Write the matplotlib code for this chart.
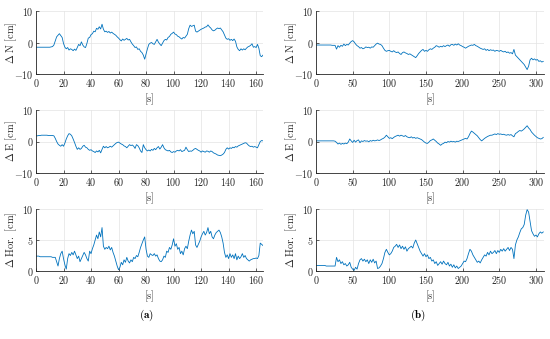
import numpy as np
import matplotlib
matplotlib.use("Agg")
import matplotlib.pyplot as plt

plt.rcParams['font.family'] = 'cmr10'
plt.rcParams['mathtext.fontset'] = 'cm'
plt.rcParams['axes.formatter.use_mathtext'] = True

# ---------------- data: panel (a), 1 s sampling ----------------
a_N = [
    -1.5, -1.5, -1.5, -1.5, -1.5, -1.5, -1.5, -1.5, -1.5, -1.5,
    -1.5, -1.4, -1.3, -0.8, 0.5, 1.8, 2.3, 2.8, 2.2, 1.6,
    -0.3, -1.5, -2.0, -1.6, -2.4, -2.0, -2.2, -2.6, -2.1, -2.5,
    -1.6, -0.6, -1.0, 0.2, -0.8, -1.4, -1.6, -0.3, 1.4, 1.6,
    2.5, 2.8, 3.6, 3.4, 4.5, 4.2, 5.0, 4.3, 5.8, 4.2,
    3.4, 3.6, 3.2, 3.5, 3.0, 3.3, 2.9, 2.6, 2.3, 1.8,
    1.4, 0.9, 0.5, 1.1, 0.7, 1.0, 1.3, 0.8, 1.0, 0.2,
    -0.5, -1.0, -1.6, -1.4, -2.2, -2.0, -2.8, -3.2, -4.0, -5.3,
    -3.6, -2.0, -0.6, -0.2, 0.0, -0.4, -0.6, 0.2, 1.0, 0.1,
    -0.5, -1.0, -0.2, 0.6, 1.0, 0.8, 1.6, 1.9, 2.6, 2.9,
    3.3, 2.7, 2.5, 2.0, 1.8, 1.4, 1.1, 1.6, 1.4, 2.0,
    2.6, 4.4, 5.5, 5.1, 5.3, 5.5, 3.6, 3.3, 3.6, 3.9,
    4.2, 4.4, 4.6, 4.9, 5.0, 5.6, 5.0, 4.6, 4.0, 3.7,
    3.9, 4.3, 4.6, 4.4, 4.6, 4.0, 3.4, 2.4, 1.4, 1.0,
    1.2, 0.7, 1.0, 0.6, 1.1, 0.4, -1.4, -2.2, -2.6, -2.0,
    -2.4, -2.0, -2.3, -1.8, -1.4, -1.2, -0.9, -0.4, -1.5, -1.3,
    -1.6, -0.6, -1.8, -4.2, -4.5, -4.0,
]
a_E = [
    1.8, 1.8, 1.9, 1.9, 2.0, 2.0, 2.0, 2.0, 2.0, 1.9,
    1.9, 1.9, 1.9, 1.8, 1.0, 0.0, -0.8, -1.2, -1.5, -1.0,
    -1.5, -0.5, 0.8, 1.8, 2.5, 2.3, 1.8, 0.8, -0.3, -1.5,
    -2.5, -2.0, -2.5, -2.2, -1.5, -1.2, -1.8, -2.0, -2.5, -2.8,
    -2.6, -3.0, -3.2, -3.5, -3.0, -3.3, -2.8, -3.6, -2.5, -1.5,
    -2.0, -1.6, -2.0, -1.8, -1.5, -1.8, -1.4, -1.0, -0.6, -0.3,
    -0.2, -0.5, -0.8, -1.0, -1.4, -1.6, -2.0, -1.5, -1.0, -1.3,
    -1.1, -1.5, -2.2, -1.0, -1.3, -2.0, -3.0, -3.5, -1.0, -2.0,
    -2.6, -3.0, -2.7, -3.0, -2.5, -2.8, -2.2, -2.6, -2.0, -1.6,
    -2.4, -1.8, -1.0, -2.0, -2.6, -2.8, -3.0, -2.8, -3.3, -3.5,
    -3.2, -3.4, -3.0, -2.8, -3.0, -2.6, -3.2, -3.0, -2.8, -1.8,
    -2.6, -3.2, -3.0, -3.1, -2.8, -2.4, -2.2, -2.5, -2.8, -3.0,
    -3.4, -3.0, -3.2, -3.4, -3.0, -3.1, -3.4, -3.0, -3.2, -3.6,
    -3.8, -4.0, -4.3, -4.4, -4.5, -4.3, -4.0, -3.5, -2.5, -2.0,
    -2.4, -2.0, -2.2, -1.8, -2.0, -1.6, -1.8, -1.4, -1.2, -1.0,
    -0.8, -0.6, -0.4, -0.5, -1.0, -1.4, -1.6, -1.5, -1.8, -1.6,
    -1.8, -2.0, -1.0, 0.0, 0.3, 0.2,
]
a_H = [
    2.4, 2.4, 2.4, 2.3, 2.3, 2.3, 2.3, 2.3, 2.3, 2.3,
    2.3, 2.3, 2.2, 2.2, 2.2, 1.5, 0.8, 2.0, 2.8, 3.2,
    2.0, 1.0, 0.3, 2.0, 2.8, 2.5, 3.0, 2.6, 3.2, 2.6,
    2.0, 2.4, 1.5, 2.0, 2.5, 3.0, 2.6, 2.0, 1.6, 3.2,
    2.8, 3.6, 4.2, 5.0, 5.8, 5.2, 6.3, 5.5, 7.0, 4.0,
    3.5, 3.8, 3.6, 4.0, 3.4, 3.8, 3.0, 2.4, 1.6, 0.8,
    0.2, 0.6, 1.4, 1.0, 1.8, 1.4, 2.2, 1.6, 1.3, 1.8,
    1.5, 2.2, 2.0, 2.5, 2.3, 3.0, 3.8, 4.4, 5.0, 5.5,
    3.5, 2.4, 2.2, 2.8, 2.6, 2.5, 2.8, 2.4, 2.6, 2.0,
    1.6, 1.5, 1.8, 2.4, 2.2, 3.2, 3.0, 3.8, 3.5, 4.2,
    5.2, 4.0, 4.4, 3.5, 3.8, 2.8, 3.2, 2.6, 3.6, 4.0,
    3.6, 4.8, 5.8, 6.6, 6.0, 6.4, 4.2, 3.8, 4.3, 4.8,
    5.5, 6.0, 6.4, 5.8, 6.2, 7.0, 6.0, 6.4, 5.5, 5.2,
    5.8, 6.2, 6.4, 6.6, 6.2, 5.5, 4.5, 3.0, 2.2, 2.6,
    2.0, 2.8, 2.2, 2.6, 2.0, 2.8, 1.8, 2.4, 2.0, 2.3,
    2.8, 2.2, 2.5, 2.0, 1.8, 1.6, 1.8, 1.9, 2.0, 2.0,
    2.1, 2.0, 2.5, 4.5, 4.3, 4.1,
]
a_t = np.arange(len(a_N))

# ---------------- data: panel (b), 2 s sampling ----------------
b_N = [
    -0.8, -0.8, -0.8, -0.8, -0.8, -0.8, -0.8, -0.8, -0.8, -0.8,
    -0.8, -0.9, -0.9, -0.9, -2.1, -1.0, -1.5, -0.9, -1.2, -0.5,
    -1.0, -0.6, -0.8, -0.2, 0.3, 0.6, 0.2, -0.5, -1.0, -1.3,
    -1.8, -1.6, -2.0, -1.8, -1.4, -1.6, -1.5, -1.8, -1.4, -1.5,
    -1.0, -0.5, -0.2, -0.5, -0.6, -1.0, -1.8, -2.5, -2.8, -2.6,
    -2.5, -2.8, -3.0, -2.6, -3.0, -3.2, -3.0, -3.5, -3.8, -3.2,
    -3.0, -3.3, -3.5, -3.8, -3.6, -3.9, -4.2, -4.5, -4.8, -4.2,
    -3.5, -3.0, -2.5, -2.2, -2.8, -2.5, -2.8, -2.3, -2.0, -2.2,
    -1.8, -1.5, -1.0, -1.2, -1.5, -1.2, -1.4, -1.0, -1.3, -1.0,
    -0.8, -1.2, -0.7, -0.6, -0.9, -0.5, -0.8, -0.4, -0.8, -1.0,
    -1.3, -1.5, -1.8, -1.5, -1.2, -1.0, -0.8, -0.9, -0.6, -1.0,
    -1.2, -1.5, -1.8, -2.0, -2.2, -2.0, -2.5, -2.2, -2.6, -2.3,
    -2.5, -2.4, -2.8, -2.5, -2.6, -2.8, -2.5, -2.8, -3.0, -2.8,
    -3.2, -3.0, -3.4, -3.2, -3.6, -2.2, -4.0, -4.5, -5.0, -5.5,
    -6.0, -6.5, -7.0, -7.8, -8.6, -7.5, -5.5, -5.0, -5.5, -5.2,
    -5.6, -5.4, -6.0, -5.8, -6.2, -6.0,
]
b_E = [
    0.2, 0.2, 0.2, 0.2, 0.2, 0.2, 0.2, 0.2, 0.2, 0.2,
    0.2, 0.2, 0.2, 0.1, -0.3, -0.8, -0.5, -0.9, -0.6, -0.8,
    -0.5, -0.7, -0.2, 0.8, 0.2, -0.3, 0.4, -0.2, 0.3, 0.5,
    -0.4, 0.2, 0.0, 0.3, 0.1, 0.2, -0.1, 0.3, 0.1, 0.4,
    0.2, 0.3, 0.5, 0.3, 0.5, 0.8, 1.0, 1.4, 2.0, 1.5,
    1.0, 1.2, 0.9, 1.3, 1.6, 1.8, 2.0, 1.7, 2.0, 1.8,
    1.6, 1.9, 1.5, 1.3, 1.2, 1.5, 1.1, 1.3, 1.0, 1.2,
    1.0, 0.8, 0.6, 0.2, -0.2, -0.5, -0.6, -0.2, 0.3, 0.5,
    0.8, 0.4, 0.0, -0.5, -0.8, -1.2, -0.8, -0.6, -0.2, -0.4,
    0.0, -0.2, 0.1, -0.1, 0.0, -0.2, 0.1, 0.0, 0.2, 0.4,
    0.6, 0.8, 1.0, 0.8, 1.5, 2.5, 3.3, 3.0, 2.6, 2.2,
    1.8, 1.2, 0.6, 0.2, 0.6, 1.0, 1.3, 1.6, 1.8, 2.0,
    2.0, 2.2, 2.4, 2.2, 2.5, 2.3, 2.4, 2.2, 2.3, 2.1,
    2.0, 2.2, 2.0, 2.2, 1.8, 1.5, 2.5, 2.8, 3.2, 3.5,
    3.3, 3.6, 4.0, 4.5, 5.0, 4.3, 3.8, 3.0, 2.5, 2.0,
    1.6, 1.2, 1.0, 0.8, 0.9, 1.3,
]
b_H = [
    0.9, 0.9, 0.9, 0.9, 0.9, 0.9, 0.9, 0.8, 0.8, 0.8,
    0.8, 0.8, 0.8, 0.8, 2.2, 1.5, 1.8, 1.2, 1.5, 1.0,
    1.2, 0.8, 1.0, 1.4, 0.6, 0.3, 0.1, 0.6, 0.3, 1.2,
    1.8, 2.0, 1.6, 1.9, 1.5, 1.8, 1.2, 1.8, 1.4, 1.9,
    1.3, 1.6, 0.4, 0.5, 0.8, 1.2, 2.0, 3.0, 3.5, 3.0,
    2.6, 2.8, 3.2, 3.8, 4.0, 4.3, 3.8, 4.2, 3.6, 4.0,
    3.5, 3.9, 3.2, 3.6, 3.8, 4.0, 3.7, 4.5, 5.0, 4.4,
    3.8, 3.2, 2.8, 2.4, 2.8, 2.3, 2.6, 2.0, 2.2, 1.6,
    1.8, 1.2, 1.5, 0.9, 1.2, 1.5, 1.1, 1.6, 1.2, 1.0,
    1.4, 0.8, 1.1, 0.6, 1.0, 0.5, 0.8, 0.4, 0.6, 0.8,
    1.2, 1.6, 1.5, 2.0, 2.8, 3.5, 3.2, 2.6, 2.2, 1.8,
    1.4, 1.6, 1.3, 1.8, 2.2, 2.6, 2.4, 3.0, 2.6, 3.2,
    2.8, 3.0, 3.3, 2.8, 3.3, 3.0, 3.5, 3.2, 3.6, 3.2,
    3.5, 3.8, 3.3, 3.8, 3.5, 2.0, 4.2, 5.0, 5.5, 6.2,
    6.8, 7.0, 7.5, 9.0, 9.9, 9.5, 8.0, 6.5, 6.0, 5.6,
    5.8, 5.5, 6.0, 6.3, 6.1, 6.3,
]
b_t = np.arange(len(b_N)) * 2

ylabels = [r'$\Delta\ \mathrm{N}\ [\mathrm{cm}]$',
           r'$\Delta\ \mathrm{E}\ [\mathrm{cm}]$',
           r'$\Delta\ \mathrm{Hor.}\ [\mathrm{cm}]$']
xlabel = r'$[\mathrm{s}]$'

# ---------------- layout ----------------
W, H = 550, 339
fig = plt.figure(figsize=(W / 100, H / 100), dpi=100)
col_x = [(36, 263), (316, 544)]
row_y = [(11, 74), (110, 173), (209, 271)]
ylab_x = [11, 291]

blue = '#0072BD'
panels = [
    (a_t, [a_N, a_E, a_H], (0, 165), [0, 20, 40, 60, 80, 100, 120, 140, 160]),
    (b_t, [b_N, b_E, b_H], (0, 311), [0, 50, 100, 150, 200, 250, 300]),
]

for c, (t, series, xlim, xticks) in enumerate(panels):
    x0, x1 = col_x[c]
    for r in range(3):
        y0, y1 = row_y[r]
        ax = fig.add_axes([x0 / W, 1 - y1 / H, (x1 - x0) / W, (y1 - y0) / H])
        ax.plot(t, series[r], color=blue, lw=0.6)
        ax.set_xlim(*xlim)
        ax.set_xticks(xticks)
        if r < 2:
            ax.set_ylim(-10, 10)
            ax.set_yticks([-10, 0, 10])
        else:
            ax.set_ylim(0, 10)
            ax.set_yticks([0, 5, 10])
        ax.grid(True, color='#e3e3e3', lw=0.5)
        ax.set_axisbelow(True)
        for s in ['top', 'right']:
            ax.spines[s].set_visible(False)
        for s in ['left', 'bottom']:
            ax.spines[s].set_color('#262626')
            ax.spines[s].set_linewidth(0.6)
        ax.tick_params(direction='in', length=2, width=0.5, labelsize=7.2,
                       colors='#262626', pad=2)
        ax.set_xlabel(xlabel, fontsize=7.5, labelpad=2, color='#262626')
        ax.set_ylabel(ylabels[r], fontsize=7.5, color='#262626', va='center')
        ax.yaxis.set_label_coords((ylab_x[c] - x0) / (x1 - x0), 0.5)

fig.text(146 / W, 1 - 315 / H, r'$\mathbf{(a)}$', ha='center', va='center', fontsize=8)
fig.text(418 / W, 1 - 315 / H, r'$\mathbf{(b)}$', ha='center', va='center', fontsize=8)

fig.savefig('out.png', dpi=100)
